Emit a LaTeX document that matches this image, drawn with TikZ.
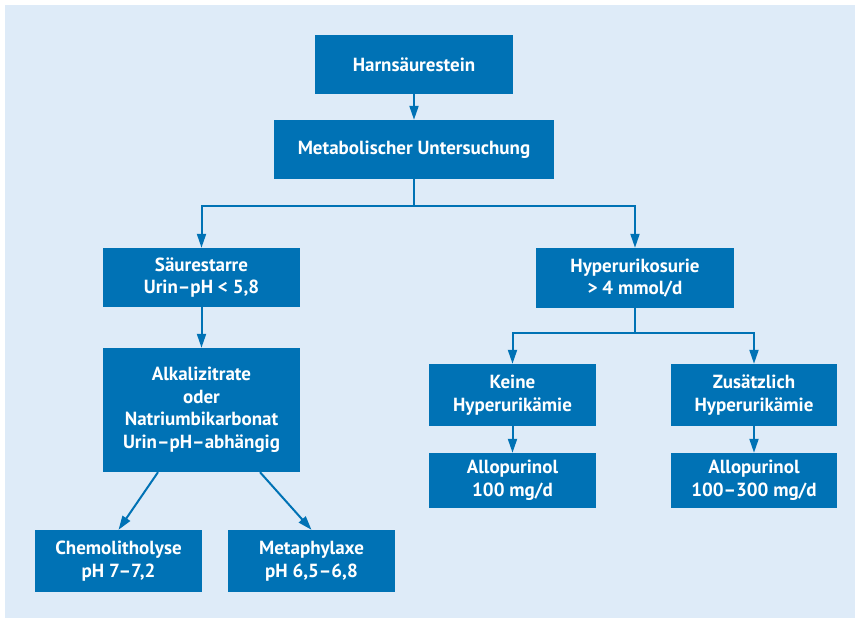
\documentclass[tikz,border=0pt]{standalone}
\usepackage{fontspec}
\setmainfont{PT Sans}
\usetikzlibrary{arrows.meta,calc}
\definecolor{boxblue}{RGB}{0,114,181}
\definecolor{bgblue}{RGB}{222,235,248}
\begin{document}
\begin{tikzpicture}[x=1pt,y=-1pt,
  box/.style={rectangle,fill=boxblue,text=white,font=\fontsize{19}{22.5}\selectfont\bfseries,align=center,inner sep=0pt},
  conn/.style={draw=boxblue,line width=2pt},
  arr/.style={conn,-{Triangle[width=9pt,length=14pt]}}]
\useasboundingbox (0,0) rectangle (855,619);
\fill[bgblue] (5,5) rectangle (855,618);
\node[box,minimum width=198pt,minimum height=59pt] (h) at (414,64.5) {Harnsäurestein};
\node[box,minimum width=280pt,minimum height=59pt] (m) at (414,149.5) {Metabolischer Untersuchung};
\node[box,minimum width=197pt,minimum height=59pt] (s) at (201.5,277.5) {Säurestarre\\Urin–pH < 5,8};
\node[box,minimum width=198pt,minimum height=60pt] (hy) at (635,278) {Hyperurikosurie\\> 4 mmol/d};
\node[box,minimum width=197pt,minimum height=124pt] (al) at (201.5,410) {Alkalizitrate\\oder\\Natriumbikarbonat\\Urin–pH–abhängig};
\node[box,minimum width=167pt,minimum height=62pt] (k) at (512.5,395) {Keine\\Hyperurikämie};
\node[box,minimum width=166pt,minimum height=62pt] (z) at (754,395) {Zusätzlich\\Hyperurikämie};
\node[box,minimum width=167pt,minimum height=55pt] (a1) at (512.5,480.5) {Allopurinol\\100 mg/d};
\node[box,minimum width=166pt,minimum height=55pt] (a2) at (754,480.5) {Allopurinol\\100–300 mg/d};
\node[box,minimum width=167pt,minimum height=62pt] (c) at (118.5,561) {Chemolitholyse\\pH 7–7,2};
\node[box,minimum width=167pt,minimum height=62pt] (me) at (311.5,561) {Metaphylaxe\\pH 6,5–6,8};
\coordinate (mj) at (414,206);
\coordinate (hj) at (635,333);
\coordinate (l1) at ([xshift=-43.5pt]al.south);
\coordinate (l2) at ([xshift=58.5pt]al.south);
\draw[arr] (h) -- (m);
\draw[conn] (m.south) -- (mj);
\draw[arr] (mj) -| (s.north);
\draw[arr] (mj) -| (hy.north);
\draw[arr] (s) -- (al);
\draw[conn] (hy.south) -- (hj);
\draw[arr] (hj) -| (k.north);
\draw[arr] (hj) -| (z.north);
\draw[arr] (k) -- (a1);
\draw[arr] (z) -- (a2);
\draw[arr] (l1) -- (c.north);
\draw[arr] (l2) -- (me.north);
\end{tikzpicture}
\end{document}
